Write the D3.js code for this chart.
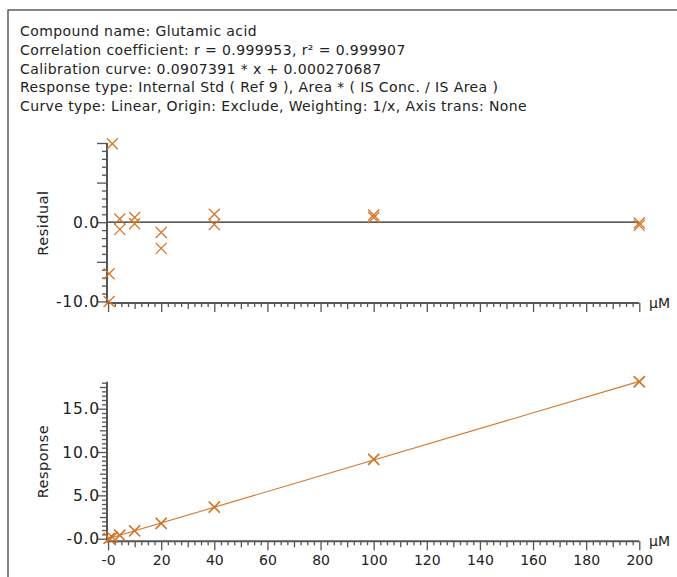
<!DOCTYPE html>
<html><head><meta charset="utf-8">
<script src="https://cdn.jsdelivr.net/npm/d3@7"></script>
<style>
html,body{margin:0;padding:0;background:#fff;overflow:hidden}
svg{display:block}
text{font-family:"DejaVu Sans",Verdana,sans-serif;fill:#222}
</style></head><body>
<script>
// ---- data ----
const headerLines = [
  "Compound name: Glutamic acid",
  "Correlation coefficient: r = 0.999953, r\u00B2 = 0.999907",
  "Calibration curve: 0.0907391 * x + 0.000270687",
  "Response type: Internal Std ( Ref 9 ), Area * ( IS Conc. / IS Area )",
  "Curve type: Linear, Origin: Exclude, Weighting: 1/x, Axis trans: None"
];
const conc     = [0.4, 0.4, 1.6, 4.4, 4.4, 10, 10, 20, 20, 40, 40, 100, 100, 200, 200];
const residual = [-6.5, -10.0, 9.9, 0.4, -0.9, 0.6, -0.2, -1.3, -3.3, 1.0, -0.3, 0.9, 0.6, -0.1, -0.4];
const response = [0.034, 0.033, 0.159, 0.401, 0.396, 0.913, 0.906, 1.79, 1.755, 3.67, 3.62, 9.16, 9.13, 18.13, 18.08];
const slope = 0.0907391, intercept = 0.000270687;
const curveX = [-0.4, 200];
const xMajorTicks = [0, 20, 40, 60, 80, 100, 120, 140, 160, 180, 200];
const xTickLabels = ["-0", "20", "40", "60", "80", "100", "120", "140", "160", "180", "200"];
const resTickValues = [0, -10];
const resTickLabels = ["0.0", "-10.0"];
const respTickValues = [0, 5, 10, 15];
const respTickLabels = ["-0.0", "5.0", "10.0", "15.0"];
const unitLabel = "\u03BCM";

// ---- layout ----
const W = 677, H = 577;
const col = "#d4762a";
const axisCol = "#555";
const svg = d3.select("body").append("svg").attr("width", W).attr("height", H);

svg.append("rect").attr("x", 8).attr("y", 10).attr("width", 700).attr("height", 600)
  .attr("fill", "none").attr("stroke", "#444").attr("stroke-width", 1.3);

svg.append("g").selectAll("text").data(headerLines).join("text")
  .attr("x", 20).attr("y", (d, i) => 36 + i * 18.8)
  .attr("font-size", 14).attr("letter-spacing", "0.4px").text(d => d);

const x = d3.scaleLinear().domain([-0.4, 200]).range([107, 639.3]);
const yRes = d3.scaleLinear().domain([-10.2, 10]).range([303, 143]);
const yResp = d3.scaleLinear().domain([-0.3, 18.1]).range([541.3, 381.8]);

function drawXAxis(yPos, withLabels) {
  const g = svg.append("g").attr("transform", `translate(0,${yPos})`);
  const minor = d3.range(0, 200.01, 2.5).filter(v => v % 10 !== 0);
  const medium = d3.range(10, 200, 20);
  const mk = (vals, size) => g.append("g").call(d3.axisBottom(x).tickValues(vals).tickSize(size).tickFormat(""))
    .call(a => a.select(".domain").remove())
    .call(a => a.selectAll("line").attr("stroke", axisCol).attr("stroke-width", 1.3));
  mk(minor, 4); mk(medium, 6);
  g.append("g").call(d3.axisBottom(x).tickValues(xMajorTicks).tickSize(9)
      .tickFormat((d, i) => withLabels ? xTickLabels[i] : ""))
    .call(a => a.select(".domain").remove())
    .call(a => a.selectAll("line").attr("stroke", axisCol).attr("stroke-width", 1.3))
    .call(a => a.selectAll("text").attr("font-size", 14).attr("fill", "#222").attr("dy", "0.85em"));
  g.append("line").attr("x1", x.range()[0]).attr("x2", x.range()[1]).attr("y1", 0).attr("y2", 0)
    .attr("stroke", axisCol).attr("stroke-width", 2);
  svg.append("text").attr("x", 649).attr("y", yPos + 5).attr("font-size", 14).text(unitLabel);
}

function drawYAxis(y, minorVals, medVals, majVals, labelVals, labels, title) {
  const g = svg.append("g").attr("transform", `translate(${x.range()[0]},0)`);
  const mk = (vals, size) => g.append("g").call(d3.axisLeft(y).tickValues(vals).tickSize(size).tickFormat(""))
    .call(a => a.select(".domain").remove())
    .call(a => a.selectAll("line").attr("stroke", axisCol).attr("stroke-width", 1.3));
  mk(minorVals, 5); if (medVals.length) mk(medVals, 7); mk(majVals, 10);
  g.append("line").attr("x1", 0).attr("x2", 0).attr("y1", y.range()[0]).attr("y2", y.range()[1])
    .attr("stroke", axisCol).attr("stroke-width", 2);
  g.selectAll("text.tl").data(labelVals).join("text").attr("class", "tl")
    .attr("x", -7).attr("y", d => y(d)).attr("dy", "0.36em").attr("text-anchor", "end")
    .attr("font-size", 15.5).attr("letter-spacing", "0.8px").text((d, i) => labels[i]);
  const cy = (y.range()[0] + y.range()[1]) / 2;
  svg.append("text").attr("transform", `translate(48,${cy}) rotate(-90)`)
    .attr("text-anchor", "middle").attr("font-size", 14.5).attr("letter-spacing", "0.5px").text(title);
}

function cross(g, px, py) {
  g.append("path").attr("d", `M${px-5.5},${py-5.5}L${px+5.5},${py+5.5}M${px-5.5},${py+5.5}L${px+5.5},${py-5.5}`)
    .attr("stroke", col).attr("stroke-width", 1.3).attr("fill", "none");
}

// ---- residual panel ----
drawYAxis(yRes,
  d3.range(-10, 10.01, 1).filter(v => v % 5 !== 0), [],
  [-10, -5, 0, 5, 10], resTickValues, resTickLabels, "Residual");
drawXAxis(303, false);
svg.append("line").attr("x1", x(0)).attr("x2", x(200)).attr("y1", yRes(0)).attr("y2", yRes(0))
  .attr("stroke", "#222").attr("stroke-width", 1.3);
const gr = svg.append("g");
conc.forEach((c, i) => cross(gr, x(c), yRes(residual[i])));

// ---- response panel ----
drawYAxis(yResp,
  d3.range(0, 18.01, 0.5).filter(v => v % 2.5 !== 0),
  d3.range(2.5, 18, 5), [0, 5, 10, 15], respTickValues, respTickLabels, "Response");
drawXAxis(541.3, true);
svg.append("line").attr("x1", x(curveX[0])).attr("x2", x(curveX[1]))
  .attr("y1", yResp(slope * curveX[0] + intercept)).attr("y2", yResp(slope * curveX[1] + intercept))
  .attr("stroke", col).attr("stroke-width", 1.1);
const gp = svg.append("g");
conc.forEach((c, i) => cross(gp, x(c), yResp(response[i])));
</script>
</body></html>
